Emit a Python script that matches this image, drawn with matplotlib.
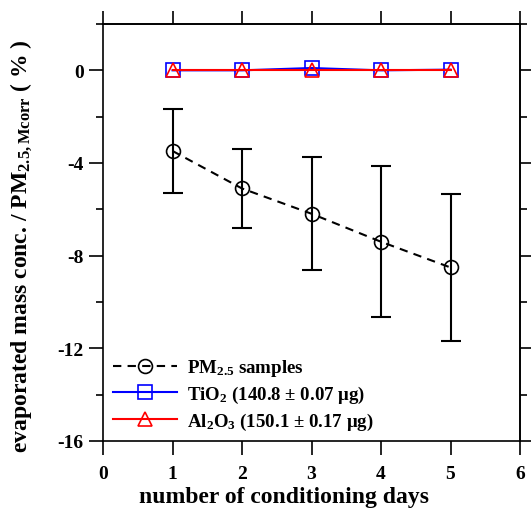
import numpy as np
import matplotlib
matplotlib.use('Agg')
import matplotlib.pyplot as plt

# ==========================
#      Data (read off)
# ==========================
days = [1, 2, 3, 4, 5]

pm25 = [-3.48, -5.10, -6.19, -7.40, -8.51]
pm25_err = [1.83, 1.71, 2.44, 3.26, 3.18]

tio2 = [0.0, 0.0, 0.10, 0.0, 0.03]
al2o3 = [0.0, 0.0, 0.0, 0.0, 0.0]

x_ticks = [0, 1, 2, 3, 4, 5, 6]
y_major = [0, -4, -8, -12, -16]
y_minor = [2, -2, -6, -10, -14]

# ==========================
#      Style
# ==========================
plt.rcParams.update({
    'font.family': 'Liberation Serif',
    'font.weight': 'bold',
    'mathtext.fontset': 'custom',
    'mathtext.rm': 'Liberation Serif:bold',
    'mathtext.it': 'Liberation Serif:bold:italic',
    'mathtext.bf': 'Liberation Serif:bold',
    'axes.linewidth': 1.2,
    'axes.unicode_minus': False,
})

fig = plt.figure(figsize=(5.31, 5.10), dpi=100)
ax = fig.add_axes([103/531, 1 - 442/510, 417/531, 417/510])

# ==========================
#        Plotting
# ==========================
ax.errorbar(days, pm25, yerr=pm25_err, fmt='none', ecolor='black',
            elinewidth=1.5, capsize=7, capthick=1.5, zorder=2)
ax.plot(days, pm25, color='black', lw=1.5, dashes=(4, 3),
        marker='o', ms=10, mfc='none', mec='black', mew=1.2,
        label='PM$_{\\mathregular{2.5}}$ samples', zorder=3)
ax.plot(days, tio2, color='blue', lw=1.5, marker='s', ms=10,
        mfc='none', mec='blue', mew=1.2,
        label='TiO$_{\\mathregular{2}}$ (140.8 ± 0.07 μg)', zorder=4)
ax.plot(days, al2o3, color='red', lw=1.5, marker='^', ms=10,
        mfc='none', mec='red', mew=1.2,
        label='Al$_{\\mathregular{2}}$O$_{\\mathregular{3}}$ (150.1 ± 0.17 μg)', zorder=5)

ax.set_xlim(0, 6)
ax.set_ylim(-16, 2)

ax.set_xticks(x_ticks)
ax.set_yticks(y_major)
ax.set_yticks(y_minor, minor=True)
ax.tick_params(axis='x', which='major', direction='out', length=10, width=1.2,
               labelsize=14, pad=7)
ax.tick_params(axis='y', which='major', direction='out', length=10, width=1.2,
               labelsize=14, pad=4)
ax.tick_params(axis='y', which='minor', direction='out', length=5, width=1.2)

# mirror axes: top and right
top = ax.secondary_xaxis('top')
top.set_xticks(x_ticks)
top.tick_params(direction='out', length=9.5, width=1.2, labeltop=False)

right = ax.secondary_yaxis('right')
right.set_yticks(y_major)
right.set_yticks(y_minor, minor=True)
right.tick_params(which='major', direction='out', length=8, width=1.2, labelright=False)
right.tick_params(which='minor', direction='out', length=5, width=1.2)

ax.set_xlabel('number of conditioning days', fontsize=17, fontweight='bold')
ax.xaxis.set_label_coords(0.434, -0.108)
ax.set_ylabel('evaporated mass conc. / PM$_{\\mathregular{2.5,Mcorr}}$ ( % )',
              fontsize=17, fontweight='bold')
ax.yaxis.set_label_coords(-0.165, 0.47)

ax.legend(loc='lower left', bbox_to_anchor=(0.024, 0.022), frameon=False,
          fontsize=13.6, handlelength=3.4, handletextpad=0.5, labelspacing=0.3,
          borderpad=0, borderaxespad=0, numpoints=1)

plt.savefig('out.png', dpi=100)
